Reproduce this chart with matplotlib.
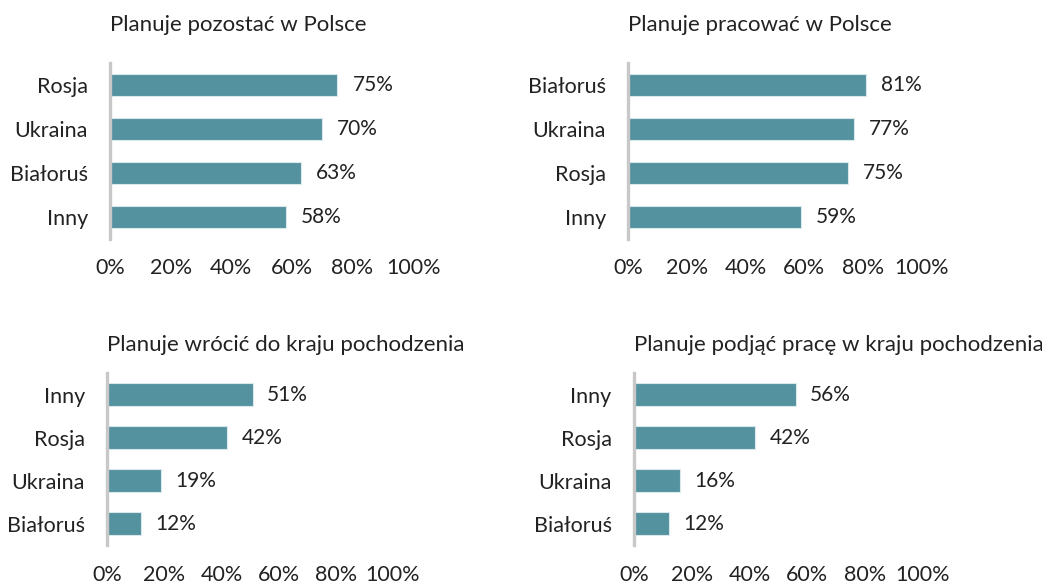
import matplotlib.pyplot as plt
from matplotlib.ticker import PercentFormatter

plt.rcParams['font.family'] = ['Lato', 'DejaVu Sans']

titles = [
    'Planuje pozostać w Polsce',
    'Planuje pracować w Polsce',
    'Planuje wrócić do kraju pochodzenia',
    'Planuje podjąć pracę w kraju pochodzenia',
]

# categories top to bottom, values in percent
stay_labels = ['Rosja', 'Ukraina', 'Białoruś', 'Inny']
stay_values = [75, 70, 63, 58]

work_pl_labels = ['Białoruś', 'Ukraina', 'Rosja', 'Inny']
work_pl_values = [81, 77, 75, 59]

return_labels = ['Inny', 'Rosja', 'Ukraina', 'Białoruś']
return_values = [51, 42, 19, 12]

work_home_labels = ['Inny', 'Rosja', 'Ukraina', 'Białoruś']
work_home_values = [56, 42, 16, 12]

x_ticks = [0, 20, 40, 60, 80, 100]

panels = [
    (stay_labels, stay_values),
    (work_pl_labels, work_pl_values),
    (return_labels, return_values),
    (work_home_labels, work_home_values),
]

# axes rectangles in figure fraction (left, bottom, width, height)
rects = [
    [0.1056, 0.590, 0.2908, 0.302],
    [0.6027, 0.590, 0.2821, 0.302],
    [0.1027, 0.065, 0.2745, 0.295],
    [0.6084, 0.065, 0.2774, 0.295],
]
title_pads = [23, 23, 16, 16]

bar_color = '#5592a0'
text_color = '#222222'

fig = plt.figure(figsize=(10.42, 5.83), dpi=100)

for (labels, values), rect, title, tpad in zip(panels, rects, titles, title_pads):
    ax = fig.add_axes(rect)
    ypos = list(range(len(labels)))
    ax.barh(ypos, values, height=0.52, color=bar_color,
            edgecolor='#dbe8eb', linewidth=0.8)
    for y, v in zip(ypos, values):
        ax.text(v + 5, y, f'{v}%', va='center', ha='left',
                fontsize=15, color=text_color)
    ax.set_xlim(0, 100)
    ax.set_ylim(len(labels) - 0.5, -0.5)
    ax.set_yticks(ypos)
    ax.set_yticklabels(labels)
    ax.set_xticks(x_ticks)
    ax.xaxis.set_major_formatter(PercentFormatter(decimals=0))
    ax.tick_params(axis='y', length=0, pad=16, labelsize=15.5, colors=text_color)
    ax.tick_params(axis='x', length=0, pad=14, labelsize=15.5, colors=text_color)
    for side in ['top', 'right', 'bottom']:
        ax.spines[side].set_visible(False)
    ax.spines['left'].set_color('#c8c8c8')
    ax.spines['left'].set_linewidth(2.4)
    ax.set_title(title, loc='left', pad=tpad, fontsize=16, color=text_color)

fig.savefig('out.png', dpi=100)
